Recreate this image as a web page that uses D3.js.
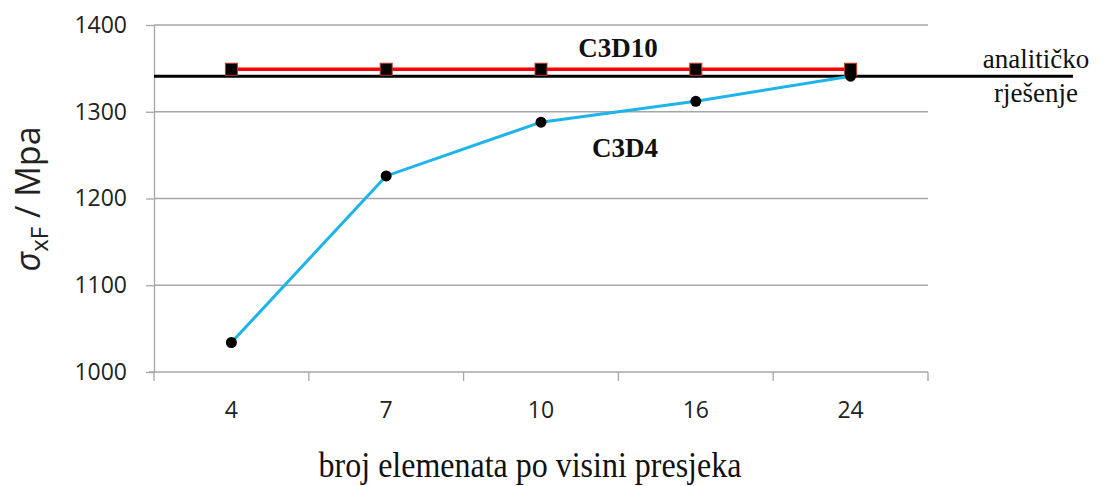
<!DOCTYPE html>
<html>
<head>
<meta charset="utf-8">
<script src="https://cdn.jsdelivr.net/npm/d3@7"></script>
<style>
  body { margin: 0; background: #fff; }
</style>
</head>
<body>
<div id="chart"></div>
<script>
var categories = ["4", "7", "10", "16", "24"];
var c3d10 = [1349, 1349, 1349, 1349, 1349];
var c3d4 = [1034, 1226, 1288, 1312, 1341];
var analytic = 1341;
var yTicks = [1000, 1100, 1200, 1300, 1400];

var W = 1105, H = 486;
var margin = {top: 25, right: 177, bottom: 114, left: 154},
  width = W - margin.left - margin.right,
  height = H - margin.top - margin.bottom;

var sans = "'Open Sans', 'Noto Sans', sans-serif";
var serif = "'Liberation Serif', 'DejaVu Serif', serif";

var x = d3.scaleBand().domain(categories).range([0, width]);
var y = d3.scaleLinear().domain([1000, 1400]).range([height, 0]);

var svg = d3.select("#chart").append("svg")
  .attr("width", W)
  .attr("height", H);

var g = svg.append("g")
  .attr("transform", "translate(" + margin.left + "," + margin.top + ")");

// gridlines
g.append("g")
  .selectAll("line")
  .data(yTicks.slice(1))
  .enter().append("line")
  .attr("x1", 0).attr("x2", width)
  .attr("y1", function(d) { return y(d); })
  .attr("y2", function(d) { return y(d); })
  .attr("stroke", "#a6a6a6").attr("stroke-width", 1.3);

// y axis
var yAxis = d3.axisLeft(y).tickValues(yTicks).tickFormat(d3.format("d"))
  .tickSizeInner(8).tickSizeOuter(0).tickPadding(19);
var ya = g.append("g").call(yAxis);
ya.select(".domain").attr("stroke", "#a6a6a6").attr("stroke-width", 1.3);
ya.selectAll(".tick line").attr("stroke", "#a6a6a6").attr("stroke-width", 1.3);
ya.selectAll("text")
  .style("font-family", sans).style("font-size", "23px").attr("fill", "#222");

// x axis with ticks at band boundaries
var xa = g.append("g")
  .attr("transform", "translate(0," + height + ")");
xa.append("line").attr("x1", -5).attr("x2", width)
  .attr("stroke", "#a6a6a6").attr("stroke-width", 1.3);
var bounds = categories.map(function(c) { return x(c); }).concat([width]);
xa.selectAll(".bt").data(bounds).enter().append("line")
  .attr("x1", function(d) { return d; }).attr("x2", function(d) { return d; })
  .attr("y1", 0).attr("y2", 9)
  .attr("stroke", "#a6a6a6").attr("stroke-width", 1.3);
xa.selectAll(".lbl").data(categories).enter().append("text")
  .attr("x", function(d) { return x(d) + x.bandwidth() / 2; })
  .attr("y", 46)
  .attr("text-anchor", "middle")
  .style("font-family", sans).style("font-size", "23px").attr("fill", "#222")
  .text(function(d) { return d; });

var cx = function(d, i) { return x(categories[i]) + x.bandwidth() / 2; };

// analytical line
g.append("line")
  .attr("x1", 0).attr("x2", 919)
  .attr("y1", y(analytic)).attr("y2", y(analytic))
  .attr("stroke", "#000").attr("stroke-width", 3);

// C3D10
var line = d3.line().x(cx).y(function(d) { return y(d); });
g.append("path").datum(c3d10)
  .attr("d", line).attr("fill", "none")
  .attr("stroke", "#ff0000").attr("stroke-width", 3.5);
g.selectAll(".sq").data(c3d10).enter().append("rect")
  .attr("x", function(d, i) { return cx(d, i) - 6; })
  .attr("y", function(d) { return y(d) - 6; })
  .attr("width", 12).attr("height", 12)
  .attr("fill", "#000").attr("stroke", "#c0392b").attr("stroke-width", 1);

// C3D4
g.append("path").datum(c3d4)
  .attr("d", line).attr("fill", "none")
  .attr("stroke", "#1eb4ea").attr("stroke-width", 3);
g.selectAll(".dot").data(c3d4).enter().append("circle")
  .attr("cx", cx)
  .attr("cy", function(d) { return y(d); })
  .attr("r", 5.5).attr("fill", "#000");

// labels
function note(tx, ty, size, txt, bold, sy) {
  svg.append("text")
    .attr("transform", "translate(" + tx + "," + ty + ") scale(1," + (sy || 1) + ")")
    .attr("text-anchor", "middle")
    .attr("font-family", serif)
    .attr("font-size", size)
    .attr("font-weight", bold ? "bold" : "normal")
    .attr("fill", "#111")
    .text(txt);
}
note(618, 57, 27, "C3D10", true, 1.05);
note(625, 157, 27, "C3D4", true, 1.05);
note(1036, 68, 27, "analitičko", false, 1.05);
note(1036, 102, 27, "rješenje", false, 1.05);
note(530, 477, 32, "broj elemenata po visini presjeka", false, 1.15);

// y title
var yt = svg.append("text")
  .attr("transform", "translate(40,199) rotate(-90)")
  .attr("text-anchor", "middle")
  .attr("font-family", sans)
  .attr("font-size", 34).attr("fill", "#222");
yt.append("tspan").attr("font-style", "italic").text("σ");
yt.append("tspan").attr("font-size", 24).attr("dy", 8).text("xF");
yt.append("tspan").attr("dy", -8).text(" / Mpa");
</script>
</body>
</html>
